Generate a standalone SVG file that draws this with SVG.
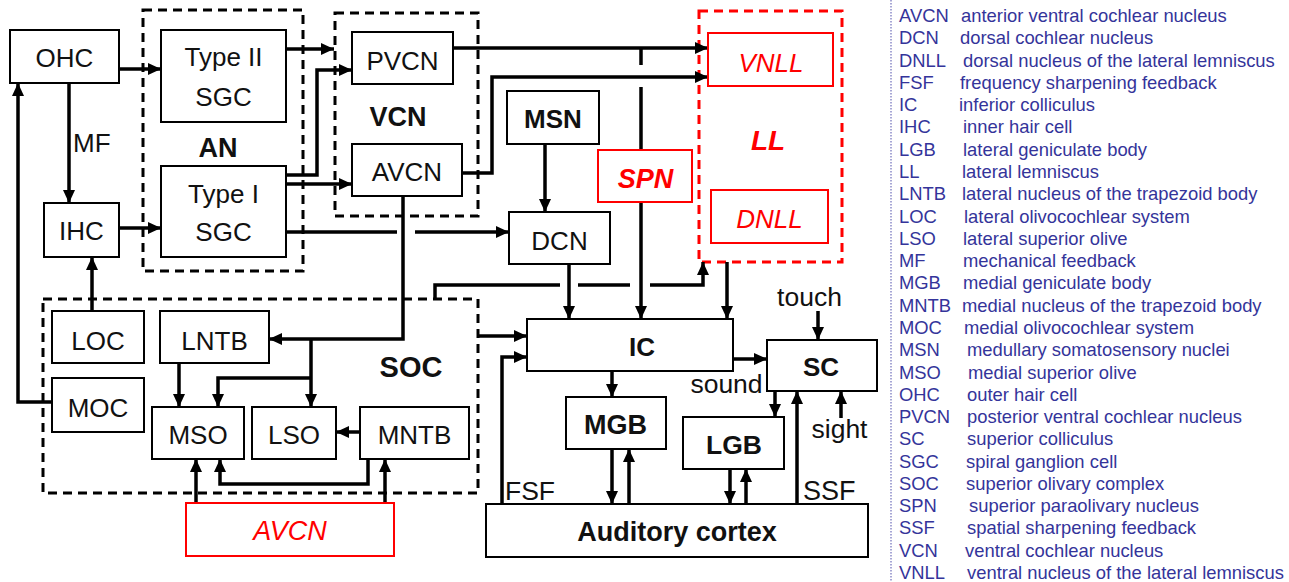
<svg xmlns="http://www.w3.org/2000/svg" width="1289" height="582" viewBox="0 0 1289 582">
<style>
.bx{fill:#fff;stroke:#000;stroke-width:2}
.rbx{fill:#fff;stroke:#f00;stroke-width:2}
.grp{fill:none;stroke:#000;stroke-width:3;stroke-dasharray:9 6}
.rgrp{fill:none;stroke:#f00;stroke-width:3;stroke-dasharray:9 6}
.c{fill:none;stroke:#000;stroke-width:3.5}
.a{marker-end:url(#ah)}
text{font-family:"Liberation Sans",Arial,sans-serif}
.t{font-size:26px;fill:#111;text-anchor:middle}
.tl{font-size:26px;fill:#111}
.b{font-size:27px;font-weight:bold;fill:#111;text-anchor:middle}
.ri{font-size:27px;font-style:italic;fill:#f00;text-anchor:middle}
.rb{font-size:28px;font-style:italic;font-weight:bold;fill:#f00;text-anchor:middle}
.lg{font-size:18.4px;fill:#34349a}
</style>
<defs>
<marker id="ah" markerUnits="userSpaceOnUse" markerWidth="14" markerHeight="12" refX="13" refY="6" orient="auto">
<path d="M0,0 L13,6 L0,12 z" fill="#000"/>
</marker>
</defs>
<rect width="1289" height="582" fill="#fff"/>

<g id="group-AN">
<rect class="grp" x="143" y="10" width="160" height="261"/>
<text class="b" x="218" y="157" font-size="28">AN</text>
</g>
<g id="group-VCN">
<rect class="grp" x="335" y="13" width="143" height="203"/>
<text class="b" x="398" y="126">VCN</text>
</g>
<g id="group-SOC">
<rect class="grp" x="43" y="299" width="435" height="194"/>
<text class="b" x="411" y="377" style="font-size:29px">SOC</text>
</g>
<g id="group-LL">
<rect class="rgrp" x="699" y="11" width="143" height="251"/>
<text class="rb" x="768" y="150">LL</text>
</g>

<g id="connectors">
<path class="c a" d="M119,69 H161"/>
<path class="c a" d="M69,83 V203"/>
<path class="c a" d="M119,228 H161"/>
<path class="c a" d="M92,311 V257"/>
<path class="c a" d="M52,402 H18 V83"/>
<path class="c a" d="M286,49 H334"/>
<path class="c a" d="M286,175 H317 V70 H352"/>
<path class="c a" d="M286,184 H352"/>
<path class="c" d="M286,232 H397"/>
<path class="c a" d="M415,232 H509"/>
<path class="c a" d="M453,48 H708"/>
<path class="c a" d="M462,173 H492 V77 H708"/>
<path class="c" d="M641,48 V65"/>
<path class="c" d="M641,87 V150"/>
<path class="c a" d="M641,202 V319"/>
<path class="c a" d="M545,144 V212"/>
<path class="c a" d="M569,264 V319"/>
<path class="c a" d="M727,262 V319"/>
<path class="c" d="M435,299 V285 H560"/>
<path class="c" d="M578,285 H630"/>
<path class="c a" d="M650,285 H703 V262"/>
<path class="c a" d="M477,336 H527"/>
<path class="c a" d="M403,196 V339 H269"/>
<path class="c a" d="M311,339 V407"/>
<path class="c a" d="M311,378 H218 V407"/>
<path class="c a" d="M179,363 V407"/>
<path class="c a" d="M360,432 H336"/>
<path class="c a" d="M368,459 V484 H220 V459"/>
<path class="c a" d="M196,503 V459"/>
<path class="c a" d="M385,503 V459"/>
<path class="c a" d="M733,359 H767"/>
<path class="c a" d="M502,504 V357 H527"/>
<path class="c a" d="M612,371 V397"/>
<path class="c a" d="M612,449 V504"/>
<path class="c a" d="M629,504 V449"/>
<path class="c a" d="M818,311 V340"/>
<path class="c a" d="M775,391 V417"/>
<path class="c a" d="M841,418 V391"/>
<path class="c a" d="M797,504 V391"/>
<path class="c a" d="M730,469 V504"/>
<path class="c a" d="M746,504 V469"/>
</g>

<g id="OHC"><rect class="bx" x="10" y="30" width="109" height="53"/><text class="t" x="64.5" y="67">OHC</text></g>
<g id="TypeII-SGC"><rect class="bx" x="161" y="30" width="125" height="92"/><text class="t" x="223.5" y="66">Type II</text><text class="t" x="223.5" y="106">SGC</text></g>
<g id="TypeI-SGC"><rect class="bx" x="161" y="166" width="125" height="91"/><text class="t" x="223.5" y="203">Type I</text><text class="t" x="223.5" y="241">SGC</text></g>
<g id="IHC"><rect class="bx" x="44" y="203" width="75" height="54"/><text class="t" x="81.5" y="240">IHC</text></g>
<g id="MF-label"><text class="tl" x="73" y="152">MF</text></g>
<g id="PVCN"><rect class="bx" x="352" y="32" width="101" height="52"/><text class="t" x="402.5" y="70">PVCN</text></g>
<g id="AVCN"><rect class="bx" x="352" y="144" width="110" height="52"/><text class="t" x="407" y="181">AVCN</text></g>
<g id="MSN"><rect class="bx" x="507" y="91" width="92" height="53"/><text class="b" x="553" y="128" style="font-size:26px">MSN</text></g>
<g id="DCN"><rect class="bx" x="509" y="212" width="101" height="52"/><text class="t" x="559.5" y="250">DCN</text></g>
<g id="SPN"><rect class="rbx" x="598" y="150" width="94" height="52"/><text class="rb" x="645.5" y="188" style="font-size:27px">SPN</text></g>
<g id="VNLL"><rect class="rbx" x="708" y="33" width="125" height="53"/><text class="ri" x="771" y="72" style="font-size:26px">VNLL</text></g>
<g id="DNLL"><rect class="rbx" x="711" y="190" width="117" height="53"/><text class="ri" x="769.5" y="228" style="font-size:26px">DNLL</text></g>
<g id="LOC"><rect class="bx" x="52" y="311" width="92" height="52"/><text class="t" x="98" y="350">LOC</text></g>
<g id="LNTB"><rect class="bx" x="160" y="311" width="109" height="52"/><text class="t" x="214.5" y="350">LNTB</text></g>
<g id="MOC"><rect class="bx" x="52" y="378" width="92" height="54"/><text class="t" x="98" y="417">MOC</text></g>
<g id="MSO"><rect class="bx" x="152" y="407" width="92" height="52"/><text class="t" x="198" y="444">MSO</text></g>
<g id="LSO"><rect class="bx" x="252" y="407" width="84" height="52"/><text class="t" x="294" y="444">LSO</text></g>
<g id="MNTB"><rect class="bx" x="360" y="407" width="109" height="52"/><text class="t" x="414.5" y="444">MNTB</text></g>
<g id="AVCN-red"><rect class="rbx" x="186" y="503" width="208" height="53"/><text class="ri" x="290" y="540">AVCN</text></g>
<g id="IC"><rect class="bx" x="527" y="319" width="206" height="52"/><text class="b" x="642" y="356" style="font-size:26px">IC</text></g>
<g id="SC"><rect class="bx" x="767" y="340" width="110" height="51"/><text class="b" x="821" y="376" style="font-size:26px">SC</text></g>
<g id="MGB"><rect class="bx" x="566" y="397" width="100" height="52"/><text class="b" x="615.5" y="434">MGB</text></g>
<g id="LGB"><rect class="bx" x="683" y="417" width="101" height="52"/><text class="b" x="734" y="454" style="font-size:26.5px">LGB</text></g>
<g id="Auditory-cortex"><rect class="bx" x="486" y="504" width="382" height="53"/><text class="b" x="677" y="541">Auditory cortex</text></g>
<g id="labels">
<text class="t" x="809.5" y="306" style="font-size:26.5px">touch</text>
<text class="t" x="726.5" y="393" style="font-size:26.5px">sound</text>
<text class="t" x="839.5" y="438" style="font-size:26.5px">sight</text>
<text class="tl" x="505" y="500" style="font-size:26.5px">FSF</text>
<text class="tl" x="803" y="500" style="font-size:27px">SSF</text>
</g>

<g id="legend">
<line x1="891" y1="0" x2="891" y2="582" stroke="#8a8ac8" stroke-width="1.5" stroke-dasharray="1.5 1.5"/>
<text class="lg" x="899" y="22">AVCN</text><text class="lg" x="961" y="22">anterior ventral cochlear nucleus</text>
<text class="lg" x="899" y="44.3">DCN</text><text class="lg" x="960" y="44.3">dorsal cochlear nucleus</text>
<text class="lg" x="899" y="66.6">DNLL</text><text class="lg" x="963" y="66.6">dorsal nucleus of the lateral lemniscus</text>
<text class="lg" x="899" y="88.8">FSF</text><text class="lg" x="960" y="88.8">frequency sharpening feedback</text>
<text class="lg" x="899" y="111.1">IC</text><text class="lg" x="959" y="111.1">inferior colliculus</text>
<text class="lg" x="899" y="133.4">IHC</text><text class="lg" x="963" y="133.4">inner hair cell</text>
<text class="lg" x="899" y="155.7">LGB</text><text class="lg" x="963" y="155.7">lateral geniculate body</text>
<text class="lg" x="899" y="178">LL</text><text class="lg" x="962" y="178">lateral lemniscus</text>
<text class="lg" x="899" y="200.2">LNTB</text><text class="lg" x="962" y="200.2">lateral nucleus of the trapezoid body</text>
<text class="lg" x="899" y="222.5">LOC</text><text class="lg" x="964" y="222.5">lateral olivocochlear system</text>
<text class="lg" x="899" y="244.8">LSO</text><text class="lg" x="963" y="244.8">lateral superior olive</text>
<text class="lg" x="899" y="267.1">MF</text><text class="lg" x="963" y="267.1">mechanical feedback</text>
<text class="lg" x="899" y="289.4">MGB</text><text class="lg" x="963" y="289.4">medial geniculate body</text>
<text class="lg" x="899" y="311.6">MNTB</text><text class="lg" x="962" y="311.6">medial nucleus of the trapezoid body</text>
<text class="lg" x="899" y="333.9">MOC</text><text class="lg" x="964" y="333.9">medial olivocochlear system</text>
<text class="lg" x="899" y="356.2">MSN</text><text class="lg" x="967" y="356.2">medullary somatosensory nuclei</text>
<text class="lg" x="899" y="378.5">MSO</text><text class="lg" x="968" y="378.5">medial superior olive</text>
<text class="lg" x="899" y="400.8">OHC</text><text class="lg" x="967" y="400.8">outer hair cell</text>
<text class="lg" x="899" y="423">PVCN</text><text class="lg" x="967" y="423">posterior ventral cochlear nucleus</text>
<text class="lg" x="899" y="445.3">SC</text><text class="lg" x="967" y="445.3">superior colliculus</text>
<text class="lg" x="899" y="467.6">SGC</text><text class="lg" x="966" y="467.6">spiral ganglion cell</text>
<text class="lg" x="899" y="489.9">SOC</text><text class="lg" x="966" y="489.9">superior olivary complex</text>
<text class="lg" x="899" y="512.2">SPN</text><text class="lg" x="969" y="512.2">superior paraolivary nucleus</text>
<text class="lg" x="899" y="534.4">SSF</text><text class="lg" x="967" y="534.4">spatial sharpening feedback</text>
<text class="lg" x="899" y="556.7">VCN</text><text class="lg" x="965" y="556.7">ventral cochlear nucleus</text>
<text class="lg" x="899" y="579">VNLL</text><text class="lg" x="967" y="579">ventral nucleus of the lateral lemniscus</text>
</g>
</svg>
